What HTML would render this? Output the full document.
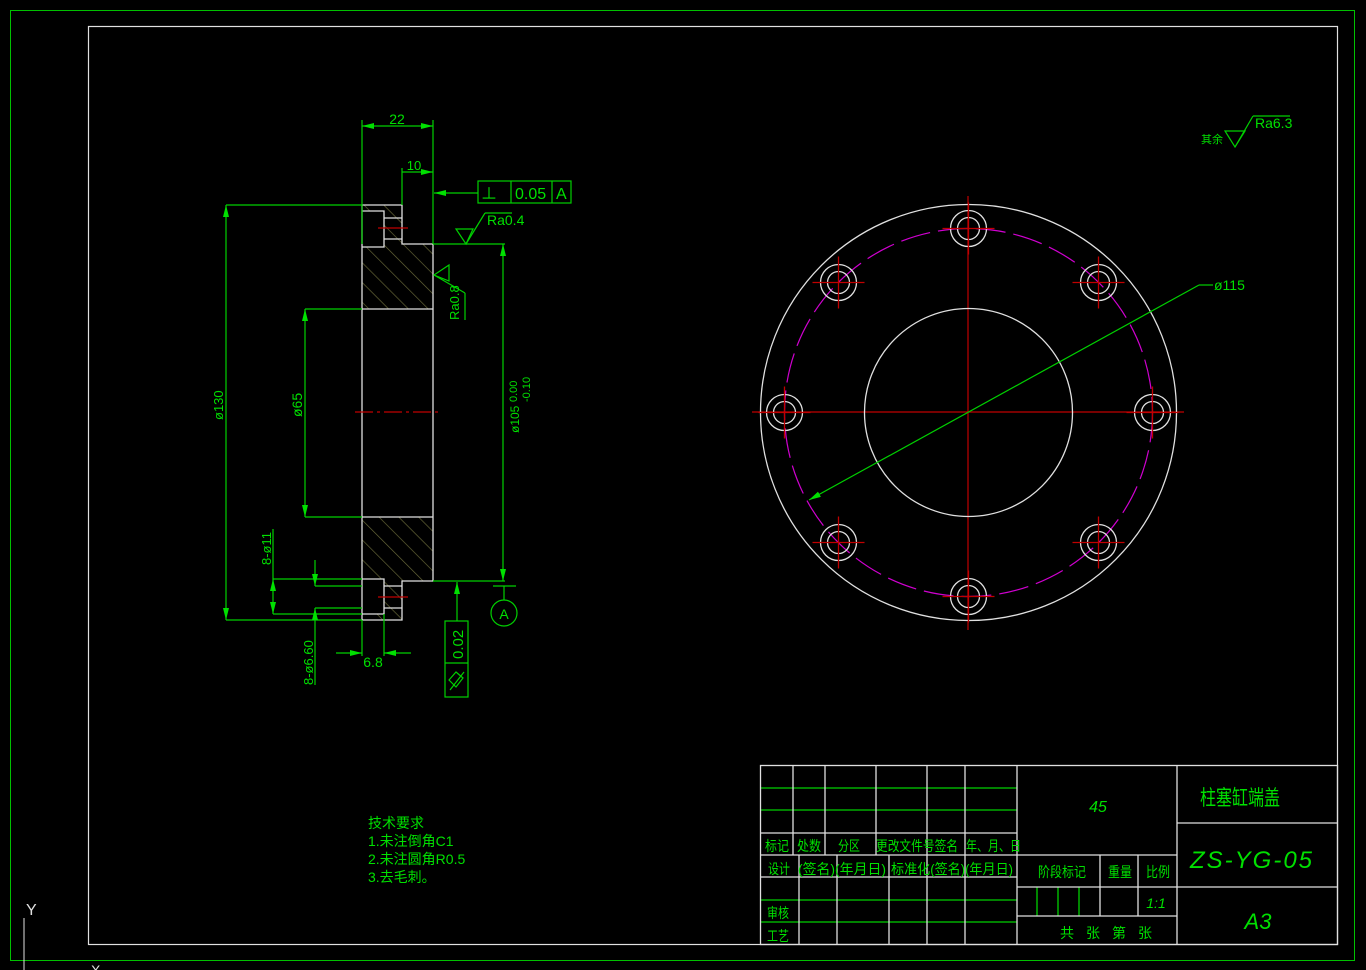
<!DOCTYPE html>
<html><head><meta charset="utf-8"><style>
html,body{margin:0;padding:0;background:#000;}
svg{display:block;}
text{font-family:"Liberation Sans","Noto Sans CJK SC",sans-serif;fill:#00e000;}
</style></head><body>
<svg width="1366" height="970" viewBox="0 0 1366 970" xmlns="http://www.w3.org/2000/svg">
<defs>
<pattern id="h" patternUnits="userSpaceOnUse" width="14" height="14" patternTransform="rotate(-45)">
<line x1="0" y1="0" x2="0" y2="14" stroke="#6b6b3a" stroke-width="1.3"/>
</pattern>
<marker id="a" viewBox="0 0 12 6" refX="12" refY="3" markerWidth="12" markerHeight="6" orient="auto-start-reverse" markerUnits="userSpaceOnUse"><path d="M0,0 L12,3 L0,6z" fill="#00e000"/></marker>
</defs>
<rect x="10.5" y="10.5" width="1344" height="950" fill="none" stroke="#00c000" stroke-width="1"/>
<rect x="88.5" y="26.5" width="1249" height="918" fill="none" stroke="#e0e0e0" stroke-width="1.2"/>

<rect x="362" y="244" width="71" height="65" fill="url(#h)"/>
<rect x="362" y="517" width="71" height="64" fill="url(#h)"/>
<rect x="362" y="205" width="40" height="39" fill="url(#h)"/>
<rect x="362" y="581" width="40" height="39" fill="url(#h)"/>
<rect x="362" y="211" width="22" height="36" fill="#000"/>
<rect x="362" y="579" width="22" height="35" fill="#000"/>
<g stroke="#e0e0e0" stroke-width="1.3" fill="none">
<path d="M362,205 H402 V244 H433 V581 H402 V620 H362 Z"/>
<line x1="362" y1="309" x2="433" y2="309"/>
<line x1="362" y1="517" x2="433" y2="517"/>
<path d="M362,211 H384 V247 H362"/>
<line x1="384" y1="218" x2="402" y2="218"/><line x1="384" y1="239" x2="402" y2="239"/>
<path d="M362,579 H384 V614 H362"/>
<line x1="384" y1="586" x2="402" y2="586"/><line x1="384" y1="608" x2="402" y2="608"/>
</g>
<g stroke="#c00000" stroke-width="1.2">
<line x1="378" y1="228" x2="408" y2="228"/>
<line x1="378" y1="597" x2="408" y2="597"/>
<line x1="355" y1="412" x2="440" y2="412" stroke-dasharray="18,4,3,4"/>
</g>

<g stroke="#00d000" stroke-width="1.2" fill="none">
<line x1="362" y1="120" x2="362" y2="244"/><line x1="433" y1="120" x2="433" y2="244"/>
<line x1="362" y1="126" x2="433" y2="126" marker-start="url(#a)" marker-end="url(#a)"/>
<line x1="402" y1="168" x2="402" y2="205"/>
<line x1="402" y1="172" x2="433" y2="172" marker-end="url(#a)"/>
<line x1="478" y1="193" x2="434" y2="193" marker-end="url(#a)"/>
<rect x="478" y="181" width="93" height="22"/>
<line x1="511" y1="181" x2="511" y2="203"/><line x1="552" y1="181" x2="552" y2="203"/>
<line x1="433" y1="244" x2="505" y2="244"/>
<path d="M456,229 L473,229 L466,244 Z"/><line x1="466" y1="244" x2="485" y2="213"/><line x1="485" y1="213" x2="512" y2="213"/>
<line x1="503" y1="244" x2="503" y2="581" marker-start="url(#a)" marker-end="url(#a)"/>
<path d="M434,275 L449,265 L449,281 Z"/><line x1="434" y1="275" x2="465" y2="293"/><line x1="465" y1="293" x2="465" y2="320"/>
<line x1="226" y1="205" x2="362" y2="205"/><line x1="226" y1="620" x2="362" y2="620"/>
<line x1="226" y1="205" x2="226" y2="620" marker-start="url(#a)" marker-end="url(#a)"/>
<line x1="305" y1="309" x2="362" y2="309"/><line x1="305" y1="517" x2="362" y2="517"/>
<line x1="305" y1="309" x2="305" y2="517" marker-start="url(#a)" marker-end="url(#a)"/>
<line x1="273" y1="579" x2="362" y2="579"/><line x1="273" y1="614" x2="362" y2="614"/>
<line x1="273" y1="529" x2="273" y2="579"/>
<line x1="273" y1="579" x2="273" y2="614" marker-start="url(#a)" marker-end="url(#a)"/>
<line x1="315" y1="586" x2="362" y2="586"/><line x1="315" y1="608" x2="362" y2="608"/>
<line x1="315" y1="560" x2="315" y2="586" marker-end="url(#a)"/>
<line x1="315" y1="685" x2="315" y2="608" marker-end="url(#a)"/>
<line x1="362" y1="620" x2="362" y2="656"/><line x1="384" y1="614" x2="384" y2="656"/>
<line x1="336" y1="653" x2="362" y2="653" marker-end="url(#a)"/>
<line x1="411" y1="653" x2="384" y2="653" marker-end="url(#a)"/>
<line x1="433" y1="581" x2="505" y2="581"/>
<line x1="493" y1="586" x2="516" y2="586"/><line x1="504" y1="586" x2="504" y2="600"/>
<circle cx="504" cy="613" r="13"/>
<line x1="457" y1="621" x2="457" y2="582" marker-end="url(#a)"/>
<rect x="445" y="621" width="23" height="76"/><line x1="445" y1="663" x2="468" y2="663"/>
<path d="M450,690 L464,672 M449,680 L456,672 L463,678 L456,687 Z"/>
</g>
<text x="397" y="124" font-size="14" text-anchor="middle">22</text>
<text x="414" y="170" font-size="13" text-anchor="middle">10</text>
<text x="481" y="199" font-size="16">⊥</text>
<text x="515" y="199" font-size="16">0.05</text>
<text x="556" y="199" font-size="16">A</text>
<text x="487" y="225" font-size="14">Ra0.4</text>
<text transform="translate(459,320) rotate(-90)" font-size="13">Ra0.8</text>
<text transform="translate(223,420) rotate(-90)" font-size="13">ø130</text>
<text transform="translate(302,417) rotate(-90)" font-size="14">ø65</text>
<text transform="translate(519,433) rotate(-90)" font-size="12">ø105</text>
<text transform="translate(517,402) rotate(-90)" font-size="11">0.00</text>
<text transform="translate(530,402) rotate(-90)" font-size="11">-0.10</text>
<text transform="translate(271,565) rotate(-90)" font-size="13">8-ø11</text>
<text transform="translate(313,685) rotate(-90)" font-size="13">8-ø6.60</text>
<text x="373" y="667" font-size="14" text-anchor="middle">6.8</text>
<text x="504" y="619" font-size="14" text-anchor="middle">A</text>
<text transform="translate(463,659) rotate(-90)" font-size="15">0.02</text>

<g stroke="#c00000" stroke-width="1.2">
<line x1="752" y1="412" x2="1184" y2="412"/>
<line x1="968" y1="196" x2="968" y2="630"/>
</g>
<g fill="none" stroke="#e0e0e0" stroke-width="1.3">
<circle cx="968.5" cy="412.5" r="208"/>
<circle cx="968.5" cy="412.5" r="104"/>
</g>
<circle cx="968.5" cy="412.5" r="184" fill="none" stroke="#d000d0" stroke-width="1.2" stroke-dasharray="30,8"/>
<g fill="none" stroke-width="1.3">
<g transform="translate(968.5,228.5)"><circle r="18" stroke="#e0e0e0"/><circle r="11" stroke="#e0e0e0"/><path d="M-26,0H26M0,-26V26" stroke="#c00000"/></g>
<g transform="translate(968.5,596.5)"><circle r="18" stroke="#e0e0e0"/><circle r="11" stroke="#e0e0e0"/><path d="M-26,0H26M0,-26V26" stroke="#c00000"/></g>
<g transform="translate(784.5,412.5)"><circle r="18" stroke="#e0e0e0"/><circle r="11" stroke="#e0e0e0"/><path d="M-26,0H26M0,-26V26" stroke="#c00000"/></g>
<g transform="translate(1152.5,412.5)"><circle r="18" stroke="#e0e0e0"/><circle r="11" stroke="#e0e0e0"/><path d="M-26,0H26M0,-26V26" stroke="#c00000"/></g>
<g transform="translate(838.5,282.5)"><circle r="18" stroke="#e0e0e0"/><circle r="11" stroke="#e0e0e0"/><path d="M-26,0H26M0,-26V26" stroke="#c00000"/></g>
<g transform="translate(1098.5,282.5)"><circle r="18" stroke="#e0e0e0"/><circle r="11" stroke="#e0e0e0"/><path d="M-26,0H26M0,-26V26" stroke="#c00000"/></g>
<g transform="translate(838.5,542.5)"><circle r="18" stroke="#e0e0e0"/><circle r="11" stroke="#e0e0e0"/><path d="M-26,0H26M0,-26V26" stroke="#c00000"/></g>
<g transform="translate(1098.5,542.5)"><circle r="18" stroke="#e0e0e0"/><circle r="11" stroke="#e0e0e0"/><path d="M-26,0H26M0,-26V26" stroke="#c00000"/></g>
</g>
<g stroke="#00d000" stroke-width="1.2" fill="none">
<line x1="1199" y1="285" x2="809" y2="500" marker-end="url(#a)"/>
<line x1="1199" y1="285" x2="1213" y2="285"/>
</g>
<text x="1214" y="290" font-size="14">ø115</text>

<g stroke="#00d000" stroke-width="1.2" fill="none">
<path d="M1225,131 L1245,131 L1235,147 Z"/><line x1="1235" y1="147" x2="1253" y2="116"/><line x1="1253" y1="116" x2="1290" y2="116"/>
</g>
<text x="1201" y="143" font-size="11">其余</text>
<text x="1255" y="128" font-size="14">Ra6.3</text>

<g font-size="14">
<text x="368" y="828">技术要求</text>
<text x="368" y="846">1.未注倒角C1</text>
<text x="368" y="864">2.未注圆角R0.5</text>
<text x="368" y="882">3.去毛刺。</text>
</g>

<g stroke="#00d000" stroke-width="1.3">
<line x1="760" y1="788" x2="1017" y2="788"/><line x1="760" y1="810" x2="1017" y2="810"/>
<line x1="760" y1="900" x2="1017" y2="900"/><line x1="760" y1="922" x2="1017" y2="922"/>
<line x1="1037" y1="887" x2="1037" y2="916"/><line x1="1058" y1="887" x2="1058" y2="916"/><line x1="1079" y1="887" x2="1079" y2="916"/>
</g>
<g stroke="#e0e0e0" stroke-width="1.3" fill="none">
<rect x="760.5" y="765.5" width="577" height="179"/>
<line x1="760" y1="833" x2="1017" y2="833"/><line x1="760" y1="855" x2="1177" y2="855"/><line x1="760" y1="877" x2="1017" y2="877"/>
<line x1="793" y1="765" x2="793" y2="855"/><line x1="825" y1="765" x2="825" y2="855"/><line x1="876" y1="765" x2="876" y2="855"/>
<line x1="927" y1="765" x2="927" y2="944"/><line x1="965" y1="765" x2="965" y2="944"/>
<line x1="799" y1="855" x2="799" y2="944"/><line x1="837" y1="855" x2="837" y2="944"/><line x1="889" y1="855" x2="889" y2="944"/>
<line x1="1017" y1="765" x2="1017" y2="944"/><line x1="1177" y1="765" x2="1177" y2="944"/>
<line x1="1100" y1="855" x2="1100" y2="916"/><line x1="1138" y1="855" x2="1138" y2="916"/>
<line x1="1017" y1="887" x2="1177" y2="887"/><line x1="1017" y1="916" x2="1177" y2="916"/>
<line x1="1177" y1="823" x2="1337" y2="823"/><line x1="1177" y1="887" x2="1337" y2="887"/>
</g>
<g font-size="14">
<text x="765" y="851" textLength="24" lengthAdjust="spacingAndGlyphs">标记</text>
<text x="797" y="851" textLength="24" lengthAdjust="spacingAndGlyphs">处数</text>
<text x="838" y="851" textLength="22" lengthAdjust="spacingAndGlyphs">分区</text>
<text x="876" y="851" textLength="82" lengthAdjust="spacingAndGlyphs">更改文件号签名</text>
<text x="966" y="851" textLength="55" lengthAdjust="spacingAndGlyphs">年、月、日</text>
<text x="768" y="874" textLength="22" lengthAdjust="spacingAndGlyphs">设计</text>
<text x="798" y="874" textLength="88" lengthAdjust="spacingAndGlyphs">(签名)(年月日)</text>
<text x="891" y="874" textLength="122" lengthAdjust="spacingAndGlyphs">标准化(签名)(年月日)</text>
<text x="767" y="918" textLength="22" lengthAdjust="spacingAndGlyphs">审核</text>
<text x="767" y="941" textLength="22" lengthAdjust="spacingAndGlyphs">工艺</text>
<text x="1038" y="877" textLength="48" lengthAdjust="spacingAndGlyphs">阶段标记</text>
<text x="1108" y="877" textLength="24" lengthAdjust="spacingAndGlyphs">重量</text>
<text x="1146" y="877" textLength="24" lengthAdjust="spacingAndGlyphs">比例</text>
<text x="1060" y="938" letter-spacing="12">共张第张</text>
</g>
<text x="1098" y="812" font-size="16" font-style="italic" text-anchor="middle">45</text>
<text x="1156" y="908" font-size="14" font-style="italic" text-anchor="middle">1:1</text>
<text x="1200" y="805" font-size="21" textLength="80" lengthAdjust="spacingAndGlyphs">柱塞缸端盖</text>
<text x="1252" y="868" font-size="24" font-style="italic" text-anchor="middle" letter-spacing="2">ZS-YG-05</text>
<text x="1258" y="929" font-size="22" font-style="italic" text-anchor="middle">A3</text>

<line x1="24" y1="918" x2="24" y2="970" stroke="#e0e0e0" stroke-width="1"/>
<text x="26" y="915" font-size="16" style="fill:#e0e0e0">Y</text>
<text x="91" y="975" font-size="14" style="fill:#e0e0e0">X</text>
</svg>
</body></html>
